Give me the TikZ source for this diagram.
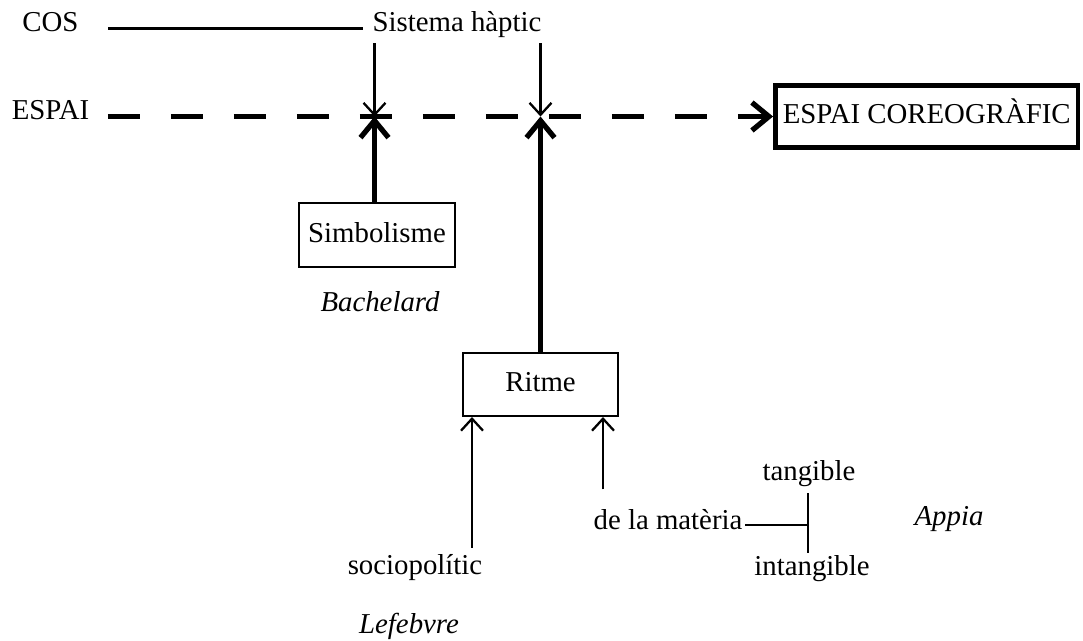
\documentclass[tikz,border=0pt]{standalone}
\usepackage{fontspec}
\setmainfont{Liberation Serif}
\usetikzlibrary{arrows.meta}

\tikzset{
  lbl/.style={anchor=base},
  author/.style={anchor=base, font=\fontsize{16.4pt}{20pt}\selectfont\itshape},
  boxed/.style={draw, line width=1.3pt, text height=11pt, text depth=3pt},
  thinln/.style={line width=1.3pt},
  thickln/.style={line width=3pt},
  thinarrow/.style={thinln, -{Straight Barb[length=2.4mm,width=4.4mm]}},
  thickarrow/.style={thickln, -{Straight Barb[length=3.4mm,width=5.6mm]}}
}

\begin{document}
\begin{tikzpicture}[x=0.02cm, y=-0.02cm, font=\fontsize{16.4pt}{20pt}\selectfont]
\useasboundingbox (0,0) rectangle (1083,640);

% top row
\node[lbl] (cos) at (50.5,31) {COS};
\node[lbl] (espai) at (50.5,119) {ESPAI};
\node[lbl] (haptic) at (457,31) {Sistema hàptic};
\node[boxed, line width=2.8pt, minimum width=6.05cm, minimum height=1.24cm] (coreo) at (926.75,116.5) {ESPAI COREOGRÀFIC};

% the two crossings on the ESPAI line
\coordinate (j1) at (374.5,116.5);
\coordinate (j2) at (540.5,116.5);

\draw[thinln, shorten <=0.47cm, shorten >=0.07cm] ([yshift=-3.9pt]cos.east) -- ([yshift=-3.9pt]cos.east -| haptic.west);
\draw[thickln, dash pattern=on 0.64cm off 0.62cm, shorten <=0.25cm, -{Straight Barb[length=3.4mm,width=5.6mm]}] (espai.east |- j1) -- (coreo.west);

% sistema haptic down
\draw[thinarrow] (haptic.south -| j1) -- (j1);
\draw[thinarrow] (haptic.south -| j2) -- (j2);

% simbolisme
\node[boxed, minimum width=3.12cm, minimum height=1.28cm] (simb) at (377,235) {Simbolisme};
\node[author] (bach) at (380,311) {Bachelard};
\draw[thickarrow] (simb.north -| j1) -- (j1);

% ritme
\node[boxed, minimum width=3.1cm, minimum height=1.27cm] (ritme) at (540.5,384.5) {Ritme};
\draw[thickarrow] (ritme.north -| j2) -- (j2);

\coordinate (rl) at (472,417);
\coordinate (rr) at (603,417);
\node[lbl] (socio) at (415,574) {sociopolític};
\node[author] (lefe) at (409,633) {Lefebvre};
\draw[thinarrow] (socio.north -| rl) -- (rl);

\node[lbl] (matter) at (668,529) {de la matèria};
\draw[thinarrow, shorten <=0.27cm] (matter.north -| rr) -- (rr);

% tangible / intangible
\node[lbl] (tang) at (809,480) {tangible};
\node[lbl] (intang) at (812,575) {intangible};
\coordinate (bar) at (808,525);
\coordinate (bartop) at (808,493);
\coordinate (barbot) at (808,553);
\draw[thinln, shorten <=-0.07cm] (matter.east |- bar) -- (bar);
\draw[thinln] (bartop) -- (barbot);
\node[author] (appia) at (949,525) {Appia};
\end{tikzpicture}
\end{document}
